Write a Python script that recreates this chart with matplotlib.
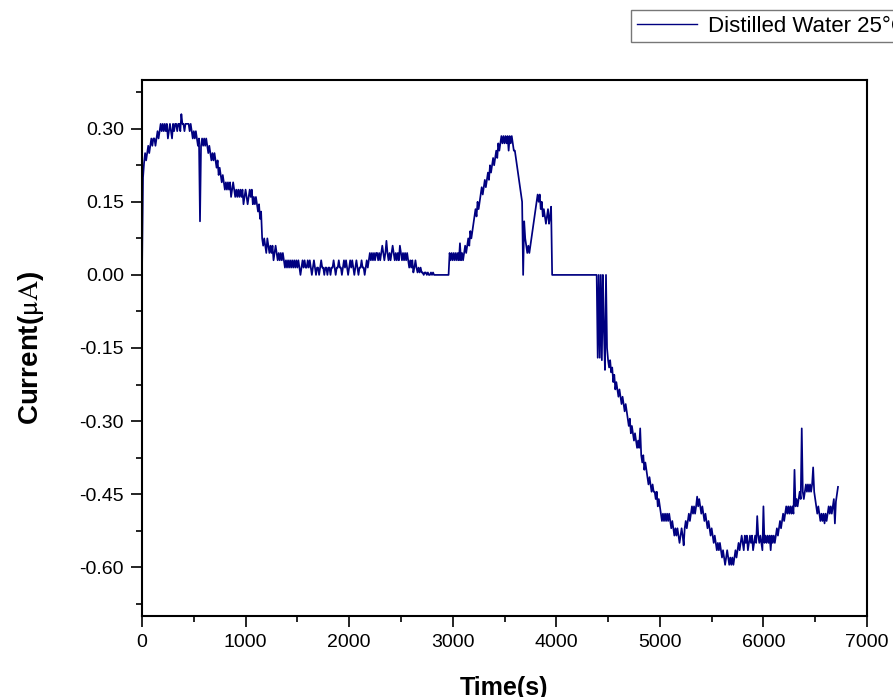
import numpy as np
import matplotlib
matplotlib.use("Agg")
import matplotlib.pyplot as plt

plt.rcParams['font.family'] = ['Liberation Sans', 'DejaVu Sans']
plt.rcParams['mathtext.fontset'] = 'stix'

# Sampling step of the recording (s)
step_s = 10

# Current (uA), one value every 10 s (10 values per row = 100 s)
seg_rise_decay = [  # 0 .. 1490 s
    0.0, 0.20, 0.23, 0.25, 0.235, 0.25, 0.265, 0.25, 0.265, 0.28,
    0.265, 0.28, 0.28, 0.265, 0.28, 0.295, 0.28, 0.295, 0.31, 0.295,
    0.31, 0.295, 0.31, 0.295, 0.31, 0.28, 0.295, 0.31, 0.295, 0.28,
    0.31, 0.295, 0.31, 0.31, 0.295, 0.31, 0.31, 0.295, 0.33, 0.31,
    0.31, 0.295, 0.31, 0.31, 0.31, 0.31, 0.295, 0.31, 0.295, 0.28,
    0.295, 0.28, 0.295, 0.28, 0.265, 0.28, 0.11, 0.265, 0.28, 0.265,
    0.28, 0.265, 0.28, 0.265, 0.25, 0.265, 0.25, 0.235, 0.25, 0.235,
    0.25, 0.235, 0.22, 0.235, 0.205, 0.22, 0.205, 0.19, 0.205, 0.19,
    0.175, 0.19, 0.175, 0.19, 0.175, 0.19, 0.16, 0.175, 0.19, 0.175,
    0.16, 0.175, 0.16, 0.175, 0.16, 0.175, 0.16, 0.175, 0.145, 0.16,
    0.175, 0.16, 0.145, 0.16, 0.175, 0.16, 0.175, 0.145, 0.16, 0.145,
    0.16, 0.145, 0.13, 0.145, 0.115, 0.13, 0.075, 0.06, 0.075, 0.06,
    0.045, 0.075, 0.06, 0.045, 0.06, 0.045, 0.06, 0.03, 0.045, 0.06,
    0.045, 0.03, 0.045, 0.03, 0.045, 0.03, 0.045, 0.03, 0.015, 0.03,
    0.015, 0.03, 0.015, 0.03, 0.015, 0.03, 0.015, 0.03, 0.015, 0.03,
]
seg_baseline = [  # 1500 .. 2990 s
    0.015, 0.03, 0.015, 0.0, 0.015, 0.03, 0.015, 0.03, 0.015, 0.015,
    0.03, 0.015, 0.03, 0.015, 0.0, 0.015, 0.03, 0.015, 0.0, 0.015,
    0.015, 0.0, 0.015, 0.03, 0.015, 0.015, 0.0, 0.015, 0.015, 0.0,
    0.015, 0.015, 0.0, 0.015, 0.015, 0.03, 0.015, 0.0, 0.015, 0.015,
    0.03, 0.015, 0.015, 0.0, 0.015, 0.03, 0.015, 0.03, 0.015, 0.0,
    0.015, 0.03, 0.015, 0.03, 0.015, 0.0, 0.015, 0.03, 0.015, 0.0,
    0.015, 0.015, 0.03, 0.015, 0.015, 0.0, 0.015, 0.03, 0.015, 0.03,
    0.045, 0.03, 0.045, 0.03, 0.045, 0.03, 0.045, 0.045, 0.03, 0.045,
    0.03, 0.045, 0.06, 0.045, 0.03, 0.045, 0.07, 0.045, 0.03, 0.045,
    0.03, 0.045, 0.06, 0.045, 0.03, 0.045, 0.03, 0.045, 0.03, 0.06,
    0.045, 0.03, 0.045, 0.03, 0.045, 0.03, 0.045, 0.03, 0.015, 0.03,
    0.015, 0.03, 0.005, 0.015, 0.03, 0.015, 0.005, 0.015, 0.005, 0.015,
    0.005, 0.005, 0.0, 0.005, 0.005, 0.0, 0.005, 0.0, 0.0, 0.005,
    0.0, 0.005, 0.0, 0.0, 0.0, 0.0, 0.0, 0.0, 0.0, 0.0,
    0.0, 0.0, 0.0, 0.0, 0.0, 0.0, 0.0, 0.045, 0.03, 0.045,
]
seg_peaks = [  # 3000 .. 3990 s
    0.03, 0.045, 0.03, 0.045, 0.03, 0.045, 0.03, 0.065, 0.03, 0.045,
    0.03, 0.045, 0.06, 0.045, 0.06, 0.075, 0.06, 0.09, 0.075, 0.09,
    0.105, 0.12, 0.135, 0.12, 0.15, 0.135, 0.15, 0.165, 0.18, 0.165,
    0.18, 0.195, 0.18, 0.195, 0.21, 0.195, 0.225, 0.21, 0.225, 0.24,
    0.225, 0.24, 0.255, 0.24, 0.27, 0.255, 0.27, 0.285, 0.27, 0.285,
    0.27, 0.285, 0.27, 0.285, 0.255, 0.285, 0.27, 0.285, 0.27, 0.255,
    0.255, 0.24, 0.225, 0.21, 0.195, 0.18, 0.165, 0.15, 0.0, 0.11,
    0.075, 0.06, 0.045, 0.06, 0.045, 0.06, 0.075, 0.09, 0.105, 0.12,
    0.135, 0.15, 0.165, 0.15, 0.165, 0.135, 0.15, 0.12, 0.135, 0.12,
    0.105, 0.12, 0.135, 0.105, 0.12, 0.14, 0.0, 0.0, 0.0, 0.0,
]
seg_zero = [  # 4000 .. 4490 s
    0.0, 0.0, 0.0, 0.0, 0.0, 0.0, 0.0, 0.0, 0.0, 0.0,
    0.0, 0.0, 0.0, 0.0, 0.0, 0.0, 0.0, 0.0, 0.0, 0.0,
    0.0, 0.0, 0.0, 0.0, 0.0, 0.0, 0.0, 0.0, 0.0, 0.0,
    0.0, 0.0, 0.0, 0.0, 0.0, 0.0, 0.0, 0.0, 0.0, 0.0,
    -0.17, 0.0, -0.17, 0.0, -0.175, 0.0, -0.115, -0.195, 0.0, -0.15,
]
seg_descent = [  # 4500 .. 6720 s
    -0.175, -0.19, -0.175, -0.2, -0.19, -0.22, -0.205, -0.235, -0.22, -0.235,
    -0.25, -0.235, -0.25, -0.265, -0.25, -0.265, -0.28, -0.265, -0.28, -0.295,
    -0.31, -0.295, -0.325, -0.31, -0.325, -0.34, -0.325, -0.34, -0.355, -0.34,
    -0.355, -0.315, -0.37, -0.385, -0.37, -0.4, -0.385, -0.4, -0.415, -0.43,
    -0.415, -0.43, -0.445, -0.43, -0.445, -0.445, -0.46, -0.445, -0.475, -0.46,
    -0.475, -0.49, -0.505, -0.49, -0.505, -0.49, -0.505, -0.49, -0.505, -0.49,
    -0.505, -0.52, -0.505, -0.52, -0.535, -0.52, -0.535, -0.52, -0.535, -0.55,
    -0.535, -0.52, -0.535, -0.555, -0.52, -0.505, -0.52, -0.505, -0.49, -0.505,
    -0.49, -0.475, -0.49, -0.475, -0.49, -0.475, -0.455, -0.475, -0.46, -0.475,
    -0.49, -0.475, -0.49, -0.505, -0.49, -0.505, -0.52, -0.505, -0.52, -0.535,
    -0.52, -0.535, -0.55, -0.535, -0.55, -0.565, -0.55, -0.565, -0.55, -0.565,
    -0.58, -0.565, -0.58, -0.595, -0.58, -0.565, -0.58, -0.595, -0.58, -0.595,
    -0.58, -0.595, -0.58, -0.565, -0.58, -0.565, -0.55, -0.565, -0.55, -0.535,
    -0.55, -0.565, -0.535, -0.55, -0.535, -0.565, -0.55, -0.535, -0.55, -0.535,
    -0.565, -0.55, -0.535, -0.55, -0.495, -0.535, -0.55, -0.535, -0.55, -0.565,
    -0.475, -0.55, -0.535, -0.55, -0.535, -0.55, -0.535, -0.565, -0.535, -0.55,
    -0.535, -0.55, -0.535, -0.52, -0.535, -0.52, -0.505, -0.52, -0.505, -0.49,
    -0.505, -0.49, -0.475, -0.49, -0.475, -0.49, -0.475, -0.49, -0.475, -0.49,
    -0.4, -0.475, -0.46, -0.475, -0.46, -0.445, -0.46, -0.315, -0.445, -0.46,
    -0.445, -0.43, -0.445, -0.43, -0.445, -0.43, -0.445, -0.43, -0.395, -0.445,
    -0.46, -0.475, -0.49, -0.475, -0.49, -0.505, -0.49, -0.505, -0.49, -0.51,
    -0.49, -0.505, -0.49, -0.475, -0.49, -0.475, -0.49, -0.475, -0.46, -0.51,
    -0.465, -0.45, -0.435,
]

current = np.array(seg_rise_decay + seg_baseline + seg_peaks + seg_zero + seg_descent)
time_s = np.arange(len(current)) * step_s

x_ticks = [0, 1000, 2000, 3000, 4000, 5000, 6000, 7000]
y_ticks = [-0.60, -0.45, -0.30, -0.15, 0.00, 0.15, 0.30]
legend_label = "Distilled Water 25°C"

W, H = 893, 697
fig = plt.figure(figsize=(W / 100, H / 100), dpi=100)
ax = fig.add_axes([142 / W, 1 - 616 / H, (867 - 142) / W, (616 - 80) / H])

line, = ax.plot(time_s, current, color='#000080', lw=1.25, label=legend_label)

ax.set_xlim(0, 7000)
ax.set_ylim(-0.70, 0.40)
ax.set_xticks(x_ticks)
ax.set_xticklabels([str(v) for v in x_ticks])
ax.set_yticks(y_ticks)
ax.set_yticklabels([f"{v:.2f}" for v in y_ticks])
ax.set_xticks(np.arange(500, 7000, 1000), minor=True)
ax.set_yticks(np.arange(-0.675, 0.40, 0.15), minor=True)

ax.tick_params(which='major', direction='out', length=8, width=1.2, labelsize=14, pad=5)
ax.tick_params(which='minor', direction='out', length=4.5, width=1.2)
ax.tick_params(top=False, right=False, which='both')
for s in ax.spines.values():
    s.set_linewidth(1.5)

ax.set_xlabel("Time(s)", fontsize=18, fontweight='bold', labelpad=18)
ax.set_ylabel(r"Current($\mathrm{\mu A}$)", fontsize=20, fontweight='bold', labelpad=24)

leg = fig.legend(handles=[line], loc='upper left', bbox_to_anchor=(631 / W, 1 - 10 / H),
                 bbox_transform=fig.transFigure, fontsize=16, frameon=True,
                 fancybox=False, borderpad=0.25, borderaxespad=0, handlelength=2.7,
                 handletextpad=0.5)
leg.get_frame().set_edgecolor('#555555')
leg.get_frame().set_linewidth(1.0)
leg.get_lines()[0].set_linewidth(1.0)

fig.savefig("out.png", dpi=100)
